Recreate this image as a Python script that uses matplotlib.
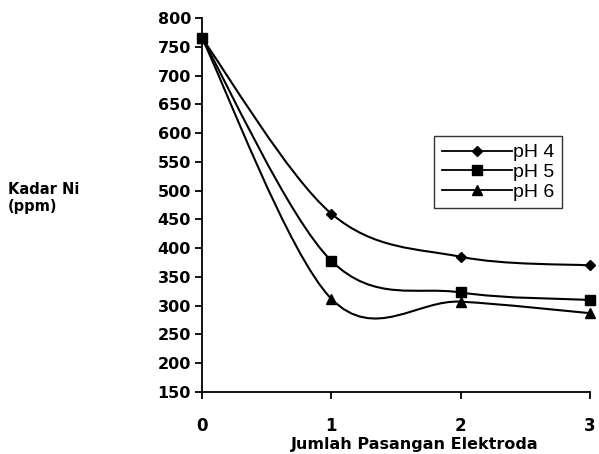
import matplotlib
matplotlib.use("Agg")
import matplotlib.pyplot as plt
from matplotlib.path import Path
from matplotlib.patches import PathPatch
from matplotlib.lines import Line2D

# data
jumlah = [0, 1, 2, 3]
ph4 = [765, 460, 385, 370]
ph5 = [765, 378, 323, 310]
ph6 = [765, 312, 307, 287]
labels = ["pH 4", "pH 5", "pH 6"]
markers = ["D", "s", "^"]
msizes = [5, 7, 7.5]


def smooth_path(x, y):
    # Excel-like smoothed line: cubic Bezier with Catmull-Rom control points
    verts = [(x[0], y[0])]
    codes = [Path.MOVETO]
    n = len(x)
    for i in range(n - 1):
        x0, y0 = (x[i - 1], y[i - 1]) if i > 0 else (x[i], y[i])
        x3, y3 = (x[i + 2], y[i + 2]) if i + 2 < n else (x[i + 1], y[i + 1])
        c1 = (x[i] + (x[i + 1] - x0) / 6, y[i] + (y[i + 1] - y0) / 6)
        c2 = (x[i + 1] - (x3 - x[i]) / 6, y[i + 1] - (y3 - y[i]) / 6)
        verts += [c1, c2, (x[i + 1], y[i + 1])]
        codes += [Path.CURVE4] * 3
    return Path(verts, codes)


fig = plt.figure(figsize=(5.99, 4.54), dpi=100)
ax = fig.add_axes([202 / 599, 1 - 392 / 454, 388 / 599, 374 / 454])

handles = []
for ys, lab, m, ms in zip([ph4, ph5, ph6], labels, markers, msizes):
    ax.add_patch(PathPatch(smooth_path(jumlah, ys), facecolor="none",
                           edgecolor="black", lw=1.5, clip_on=False))
    ax.plot(jumlah, ys, linestyle="none", marker=m, ms=ms, color="black",
            clip_on=False, zorder=3)
    handles.append(Line2D([], [], color="black", lw=1.3, marker=m, ms=ms))

ax.set_xlim(0, 3)
ax.set_ylim(150, 800)
ax.set_xticks(jumlah)
ax.set_yticks(range(150, 801, 50))
for s in ["top", "right"]:
    ax.spines[s].set_visible(False)
ax.spines["left"].set_linewidth(1.3)
ax.spines["bottom"].set_linewidth(1.3)
ax.tick_params(axis="y", length=5, width=1.3, labelsize=11.5, pad=3)
ax.tick_params(axis="x", length=5, width=1.3, labelsize=12, pad=13)
for t in ax.get_xticklabels() + ax.get_yticklabels():
    t.set_fontweight("heavy")

leg = ax.legend(handles, labels, loc="upper left",
                bbox_to_anchor=((434 - 202) / 388, (392 - 136) / 374),
                frameon=True, fancybox=False, edgecolor="black",
                prop={"family": "Liberation Sans", "size": 14},
                handlelength=3.6, handletextpad=0.05, borderpad=0.4,
                labelspacing=0.1, borderaxespad=0)
leg.get_frame().set_linewidth(1.0)

fig.text(415 / 599, 1 - 445 / 454, "Jumlah Pasangan Elektroda",
         ha="center", va="center", fontsize=11.5, fontweight="heavy")
fig.text(8 / 599, 1 - 198 / 454, "Kadar Ni\n(ppm)", ha="left", va="center",
         fontsize=10.5, fontweight="heavy", linespacing=1.1)

fig.savefig("out.png", dpi=100)
